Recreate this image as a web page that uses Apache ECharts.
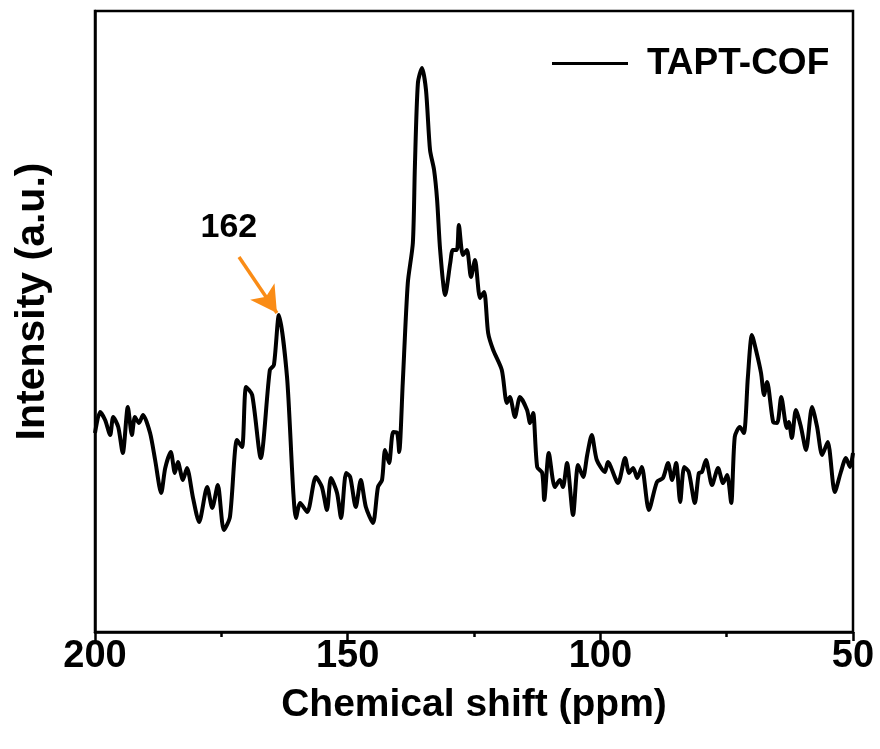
<!DOCTYPE html>
<html>
<head>
<meta charset="utf-8">
<script src="https://cdn.jsdelivr.net/npm/echarts@6/dist/echarts.min.js"></script>
<style>
  html, body { margin: 0; padding: 0; background: #fff; }
  #main { width: 880px; height: 749px; }
</style>
</head>
<body>
<div id="main"></div>
<script>
// chemical shift (ppm)
var shift = [200.0, 199.0, 198.0, 197.0, 196.4, 195.4, 194.5, 193.5, 192.7, 192.1, 191.3, 190.5, 189.1, 188.1, 186.9, 186.1,
	185.0, 184.2, 183.6, 182.6, 181.8, 180.6, 179.4, 177.8, 176.8, 175.7, 174.5, 173.3, 171.9, 170.9, 170.1, 168.9,
	167.2, 165.4, 164.6, 163.6, 162.0, 160.2, 159.4, 158.0, 156.3, 155.1, 154.1, 153.3, 152.1, 151.3, 150.3, 149.5,
	148.4, 147.4, 146.4, 145.0, 144.0, 143.2, 142.6, 141.8, 141.0, 140.2, 139.8, 139.1, 138.1, 137.1, 136.7, 136.1,
	135.3, 134.5, 133.7, 132.9, 132.3, 131.7, 130.7, 129.7, 129.2, 128.4, 128.0, 127.2, 126.4, 125.6, 124.8, 123.8,
	123.0, 122.2, 121.2, 119.5, 118.5, 117.9, 116.9, 115.9, 114.5, 113.9, 113.3, 112.5, 111.5, 111.1, 110.2, 109.0,
	108.0, 107.4, 106.6, 105.4, 104.4, 103.4, 102.6, 101.7, 100.7, 99.1, 98.5, 96.5, 95.1, 94.3, 93.5, 92.7,
	91.8, 90.4, 88.8, 87.6, 86.6, 85.8, 85.0, 84.2, 83.4, 82.5, 81.3, 80.5, 79.9, 79.1, 77.9, 76.7,
	75.7, 74.9, 74.1, 73.4, 72.4, 71.6, 70.8, 70.0, 69.2, 68.2, 67.6, 67.0, 65.8, 65.0, 64.2, 63.1,
	62.7, 62.1, 61.3, 60.3, 59.3, 58.1, 57.1, 56.1, 55.0, 53.6, 52.4, 51.4, 50.6, 50.0];

// intensity (a.u.)
var intensity = [199, 220, 212, 197, 215, 205, 179, 225, 197, 215, 209, 217, 199, 172, 139, 164,
	180, 159, 170, 152, 164, 134, 110, 145, 124, 147, 102, 115, 192, 185, 245, 237,
	174, 262, 267, 317, 255, 114, 129, 120, 155, 145, 122, 154, 139, 114, 159, 155,
	125, 152, 125, 109, 145, 152, 182, 169, 200, 199, 180, 249, 349, 389, 465, 549,
	564, 542, 482, 462, 432, 382, 337, 369, 382, 382, 407, 377, 382, 355, 372, 334,
	340, 299, 282, 262, 229, 235, 215, 235, 222, 209, 219, 165, 159, 132, 179, 145,
	152, 145, 169, 117, 167, 155, 177, 197, 172, 160, 170, 149, 174, 159, 164, 154,
	165, 122, 150, 154, 169, 152, 169, 130, 165, 160, 129, 159, 160, 172, 147, 164,
	149, 157, 129, 195, 205, 199, 255, 297, 282, 259, 237, 250, 210, 209, 235, 204,
	210, 194, 222, 205, 182, 225, 205, 177, 190, 140, 160, 174, 165, 179];

var xTicks = [200, 150, 100, 50];
var peakLabel = '162';

var points = [];
for (var i = 0; i < shift.length; i++) {
	points.push([shift[i], intensity[i]]);
}

var dom = document.getElementById('main');
var myChart = echarts.init(dom, null, { renderer: 'canvas' });
var font = 'Liberation Sans, Arial, sans-serif';

var option = {
	animation: false,
	grid: {
		left: 95,
		right: 27,
		top: 11,
		bottom: 117,
		show: true,
		borderColor: '#000',
		borderWidth: 2.5
	},
	legend: {
		left: 547,
		top: 40,
		icon: 'rect',
		itemWidth: 76,
		itemHeight: 3,
		textStyle: {
			fontFamily: font,
			fontWeight: 'bold',
			fontSize: 37,
			color: '#000',
			padding: [0, 0, 0, 14]
		},
		data: ['TAPT-COF']
	},
	xAxis: {
		type: 'value',
		min: 50,
		max: 200,
		interval: 50,
		inverse: true,
		name: 'Chemical shift (ppm)',
		nameLocation: 'middle',
		nameGap: 54,
		nameTextStyle: {
			fontFamily: font,
			fontWeight: 'bold',
			fontSize: 39,
			color: '#000'
		},
		axisLine: { lineStyle: { color: '#000', width: 2.5 } },
		axisTick: { show: true, inside: false, length: 9, lineStyle: { color: '#000', width: 2.5 } },
		minorTick: { show: true, splitNumber: 2, length: 5, lineStyle: { color: '#000', width: 2.5 } },
		splitLine: { show: false },
		axisLabel: {
			margin: 6,
			fontFamily: font,
			fontWeight: 'bold',
			fontSize: 38,
			color: '#000',
			formatter: function (v) {
				return xTicks.indexOf(v) >= 0 ? String(v) : '';
			}
		}
	},
	yAxis: {
		type: 'value',
		min: 0,
		max: 621,
		name: 'Intensity (a.u.)',
		nameLocation: 'middle',
		nameRotate: 90,
		nameGap: 42,
		nameTextStyle: {
			fontFamily: font,
			fontWeight: 'bold',
			fontSize: 41,
			color: '#000',
			padding: [0, 0, 0, 40]
		},
		axisLine: { show: true, lineStyle: { color: '#000', width: 2.5 } },
		axisTick: { show: false },
		axisLabel: { show: false },
		splitLine: { show: false }
	},
	series: [{
		name: 'TAPT-COF',
		type: 'line',
		data: points,
		showSymbol: false,
		smooth: 0.25,
		color: '#000',
		lineStyle: { color: '#000', width: 4 },
		markPoint: {
			silent: true,
			symbol: 'circle',
			symbolSize: 0,
			data: [{
				coord: [173.5, 404],
				label: {
					show: true,
					formatter: peakLabel,
					fontFamily: font,
					fontWeight: 'bold',
					fontSize: 34,
					color: '#000'
				}
			}]
		},
		markLine: {
			silent: true,
			symbol: ['none', 'arrow'],
			symbolSize: [22, 26],
			label: { show: false },
			lineStyle: { color: '#FA8C16', width: 3.5, type: 'solid' },
			data: [[{ coord: [171.5, 375] }, { coord: [164.0, 319] }]]
		}
	}]
};

if (option && typeof option === 'object') {
	myChart.setOption(option, true);
}
</script>
</body>
</html>
